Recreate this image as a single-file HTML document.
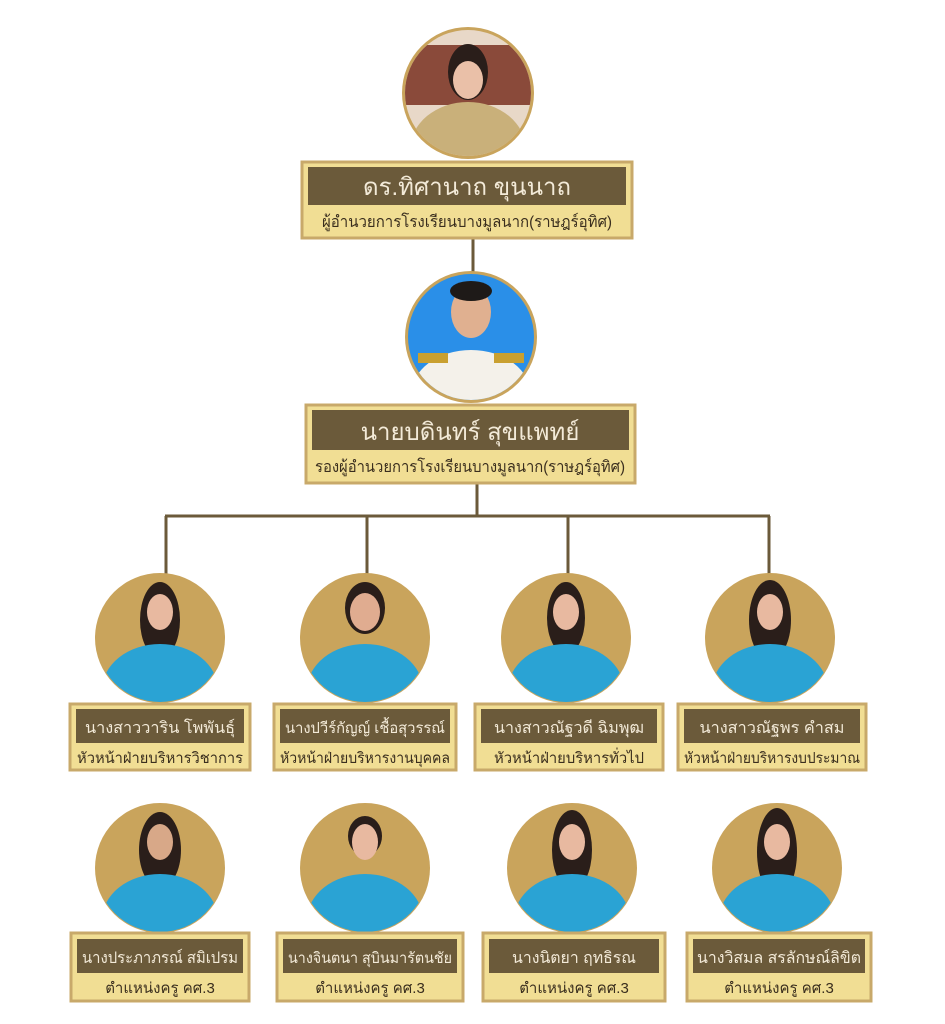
<!DOCTYPE html>
<html><head><meta charset="utf-8"><style>
html,body{margin:0;padding:0;background:#fff;}
svg{display:block;font-family:"Liberation Sans","Noto Sans CJK SC",sans-serif;}
</style></head><body>
<svg width="945" height="1024" viewBox="0 0 945 1024" xmlns="http://www.w3.org/2000/svg">
<defs>
<clipPath id="c0"><circle cx="468" cy="93" r="63"/></clipPath>
<clipPath id="c1"><circle cx="471" cy="337" r="63"/></clipPath>
<clipPath id="c2"><circle cx="160" cy="638" r="64"/></clipPath>
<clipPath id="c3"><circle cx="365" cy="638" r="64"/></clipPath>
<clipPath id="c4"><circle cx="566" cy="638" r="64"/></clipPath>
<clipPath id="c5"><circle cx="770" cy="638" r="64"/></clipPath>
<clipPath id="c6"><circle cx="160" cy="868" r="64"/></clipPath>
<clipPath id="c7"><circle cx="365" cy="868" r="64"/></clipPath>
<clipPath id="c8"><circle cx="572" cy="868" r="64"/></clipPath>
<clipPath id="c9"><circle cx="777" cy="868" r="64"/></clipPath>
</defs>
<g stroke="#6b5a3a" stroke-width="3" fill="none">
<line x1="473" y1="239" x2="473" y2="272"/>
<line x1="477" y1="484" x2="477" y2="516"/>
<line x1="165" y1="516" x2="770" y2="516"/>
<line x1="166" y1="516" x2="166" y2="576"/>
<line x1="367" y1="516" x2="367" y2="576"/>
<line x1="568" y1="516" x2="568" y2="576"/>
<line x1="769" y1="516" x2="769" y2="576"/>
</g>
<circle cx="468" cy="93" r="66" fill="#c9a45c"/>
<g clip-path="url(#c0)">
<rect x="400" y="25" width="140" height="140" fill="#e8d8c8"/>
<rect x="405" y="45" width="130" height="60" fill="#8a4a3a"/>
<ellipse cx="468" cy="150" rx="58" ry="48" fill="#c9b07a"/>
<ellipse cx="468" cy="72" rx="20" ry="28" fill="#2a1e1a"/>
<ellipse cx="468" cy="80" rx="15" ry="19" fill="#eac0a8"/>
</g>
<circle cx="471" cy="337" r="66" fill="#c9a45c"/>
<g clip-path="url(#c1)">
<rect x="400" y="270" width="145" height="140" fill="#2a8fe8"/>
<ellipse cx="471" cy="395" rx="60" ry="45" fill="#f4f1ea"/>
<rect x="418" y="353" width="30" height="10" fill="#c9a030"/>
<rect x="494" y="353" width="30" height="10" fill="#c9a030"/>
<ellipse cx="471" cy="312" rx="20" ry="26" fill="#e0b090"/>
<ellipse cx="471" cy="291" rx="21" ry="10" fill="#1e1a18"/>
</g>
<g>
<circle cx="160" cy="638" r="65" fill="#c9a45c"/><g clip-path="url(#c2)"><ellipse cx="160" cy="620" rx="20" ry="38" fill="#2a1e1a"/><ellipse cx="160" cy="690" rx="58" ry="46" fill="#2aa3d4"/><ellipse cx="160" cy="612" rx="13" ry="18" fill="#e8b9a0"/></g>
<circle cx="365" cy="638" r="65" fill="#c9a45c"/><g clip-path="url(#c3)"><ellipse cx="365" cy="608" rx="20" ry="26" fill="#2a1e1a"/><ellipse cx="365" cy="690" rx="58" ry="46" fill="#2aa3d4"/><ellipse cx="365" cy="612" rx="15" ry="19" fill="#e0ac90"/></g>
<circle cx="566" cy="638" r="65" fill="#c9a45c"/><g clip-path="url(#c4)"><ellipse cx="566" cy="618" rx="19" ry="36" fill="#2a1e1a"/><ellipse cx="566" cy="690" rx="58" ry="46" fill="#2aa3d4"/><ellipse cx="566" cy="612" rx="13" ry="18" fill="#e8b9a0"/></g>
<circle cx="770" cy="638" r="65" fill="#c9a45c"/><g clip-path="url(#c5)"><ellipse cx="770" cy="620" rx="21" ry="40" fill="#2a1e1a"/><ellipse cx="770" cy="690" rx="58" ry="46" fill="#2aa3d4"/><ellipse cx="770" cy="612" rx="13" ry="18" fill="#e8b9a0"/></g>
<circle cx="160" cy="868" r="65" fill="#c9a45c"/><g clip-path="url(#c6)"><ellipse cx="160" cy="850" rx="21" ry="38" fill="#2a1e1a"/><ellipse cx="160" cy="920" rx="58" ry="46" fill="#2aa3d4"/><ellipse cx="160" cy="842" rx="13" ry="18" fill="#d8a888"/></g>
<circle cx="365" cy="868" r="65" fill="#c9a45c"/><g clip-path="url(#c7)"><ellipse cx="365" cy="836" rx="17" ry="20" fill="#2a1e1a"/><ellipse cx="365" cy="920" rx="58" ry="46" fill="#2aa3d4"/><ellipse cx="365" cy="842" rx="13" ry="18" fill="#e8b9a0"/></g>
<circle cx="572" cy="868" r="65" fill="#c9a45c"/><g clip-path="url(#c8)"><ellipse cx="572" cy="850" rx="20" ry="40" fill="#2a1e1a"/><ellipse cx="572" cy="920" rx="58" ry="46" fill="#2aa3d4"/><ellipse cx="572" cy="842" rx="13" ry="18" fill="#e8b9a0"/></g>
<circle cx="777" cy="868" r="65" fill="#c9a45c"/><g clip-path="url(#c9)"><ellipse cx="777" cy="852" rx="20" ry="44" fill="#2a1e1a"/><ellipse cx="777" cy="920" rx="58" ry="46" fill="#2aa3d4"/><ellipse cx="777" cy="842" rx="13" ry="18" fill="#e8b9a0"/></g>
</g>
<g stroke="#c8a96a" stroke-width="3" fill="#f1de94">
<rect x="302" y="162" width="330" height="76"/>
<rect x="306" y="405" width="329" height="78"/>
<rect x="70" y="704" width="180" height="66"/>
<rect x="274" y="704" width="182" height="66"/>
<rect x="475" y="704" width="188" height="66"/>
<rect x="678" y="704" width="188" height="66"/>
<rect x="71" y="933" width="178" height="68"/>
<rect x="277" y="933" width="186" height="68"/>
<rect x="483" y="933" width="182" height="68"/>
<rect x="687" y="933" width="184" height="68"/>
</g>
<g fill="#6b5a3a">
<rect x="308" y="167" width="318" height="38"/>
<rect x="312" y="410" width="317" height="40"/>
<rect x="76" y="709" width="168" height="34"/>
<rect x="280" y="709" width="170" height="34"/>
<rect x="481" y="709" width="176" height="34"/>
<rect x="684" y="709" width="176" height="34"/>
<rect x="77" y="939" width="166" height="34"/>
<rect x="283" y="939" width="174" height="34"/>
<rect x="489" y="939" width="170" height="34"/>
<rect x="693" y="939" width="172" height="34"/>
</g>
<g fill="#f3ead8" text-anchor="middle">
<text x="467" y="195" font-size="24">ดร.ทิศานาถ ขุนนาถ</text>
<text x="470" y="440" font-size="24">นายบดินทร์ สุขแพทย์</text>
<text x="160" y="733" font-size="16" textLength="150" lengthAdjust="spacingAndGlyphs">นางสาววาริน โพพันธุ์</text>
<text x="365" y="733" font-size="15" textLength="160" lengthAdjust="spacingAndGlyphs">นางปวีร์กัญญ์ เชื้อสุวรรณ์</text>
<text x="569" y="733" font-size="16" textLength="150" lengthAdjust="spacingAndGlyphs">นางสาวณัฐวดี ฉิมพุฒ</text>
<text x="772" y="733" font-size="16" textLength="145" lengthAdjust="spacingAndGlyphs">นางสาวณัฐพร คำสม</text>
<text x="160" y="963" font-size="16" textLength="156" lengthAdjust="spacingAndGlyphs">นางประภาภรณ์ สมิเปรม</text>
<text x="370" y="963" font-size="15" textLength="164" lengthAdjust="spacingAndGlyphs">นางจินตนา สุบินมารัตนชัย</text>
<text x="574" y="963" font-size="16" textLength="124" lengthAdjust="spacingAndGlyphs">นางนิตยา ฤทธิรณ</text>
<text x="779" y="963" font-size="16" textLength="164" lengthAdjust="spacingAndGlyphs">นางวิสมล สรลักษณ์ลิขิต</text>
</g>
<g fill="#3a2e1e" text-anchor="middle">
<text x="467" y="227" font-size="16" textLength="290" lengthAdjust="spacingAndGlyphs">ผู้อำนวยการโรงเรียนบางมูลนาก(ราษฎร์อุทิศ)</text>
<text x="470" y="472" font-size="16" textLength="310" lengthAdjust="spacingAndGlyphs">รองผู้อำนวยการโรงเรียนบางมูลนาก(ราษฎร์อุทิศ)</text>
<text x="160" y="763" font-size="15" textLength="166" lengthAdjust="spacingAndGlyphs">หัวหน้าฝ่ายบริหารวิชาการ</text>
<text x="365" y="763" font-size="15" textLength="170" lengthAdjust="spacingAndGlyphs">หัวหน้าฝ่ายบริหารงานบุคคล</text>
<text x="569" y="763" font-size="15" textLength="150" lengthAdjust="spacingAndGlyphs">หัวหน้าฝ่ายบริหารทั่วไป</text>
<text x="772" y="763" font-size="15" textLength="176" lengthAdjust="spacingAndGlyphs">หัวหน้าฝ่ายบริหารงบประมาณ</text>
<text x="160" y="993" font-size="15">ตำแหน่งครู คศ.3</text>
<text x="370" y="993" font-size="15">ตำแหน่งครู คศ.3</text>
<text x="574" y="993" font-size="15">ตำแหน่งครู คศ.3</text>
<text x="779" y="993" font-size="15">ตำแหน่งครู คศ.3</text>
</g>
</svg>
</body></html>
